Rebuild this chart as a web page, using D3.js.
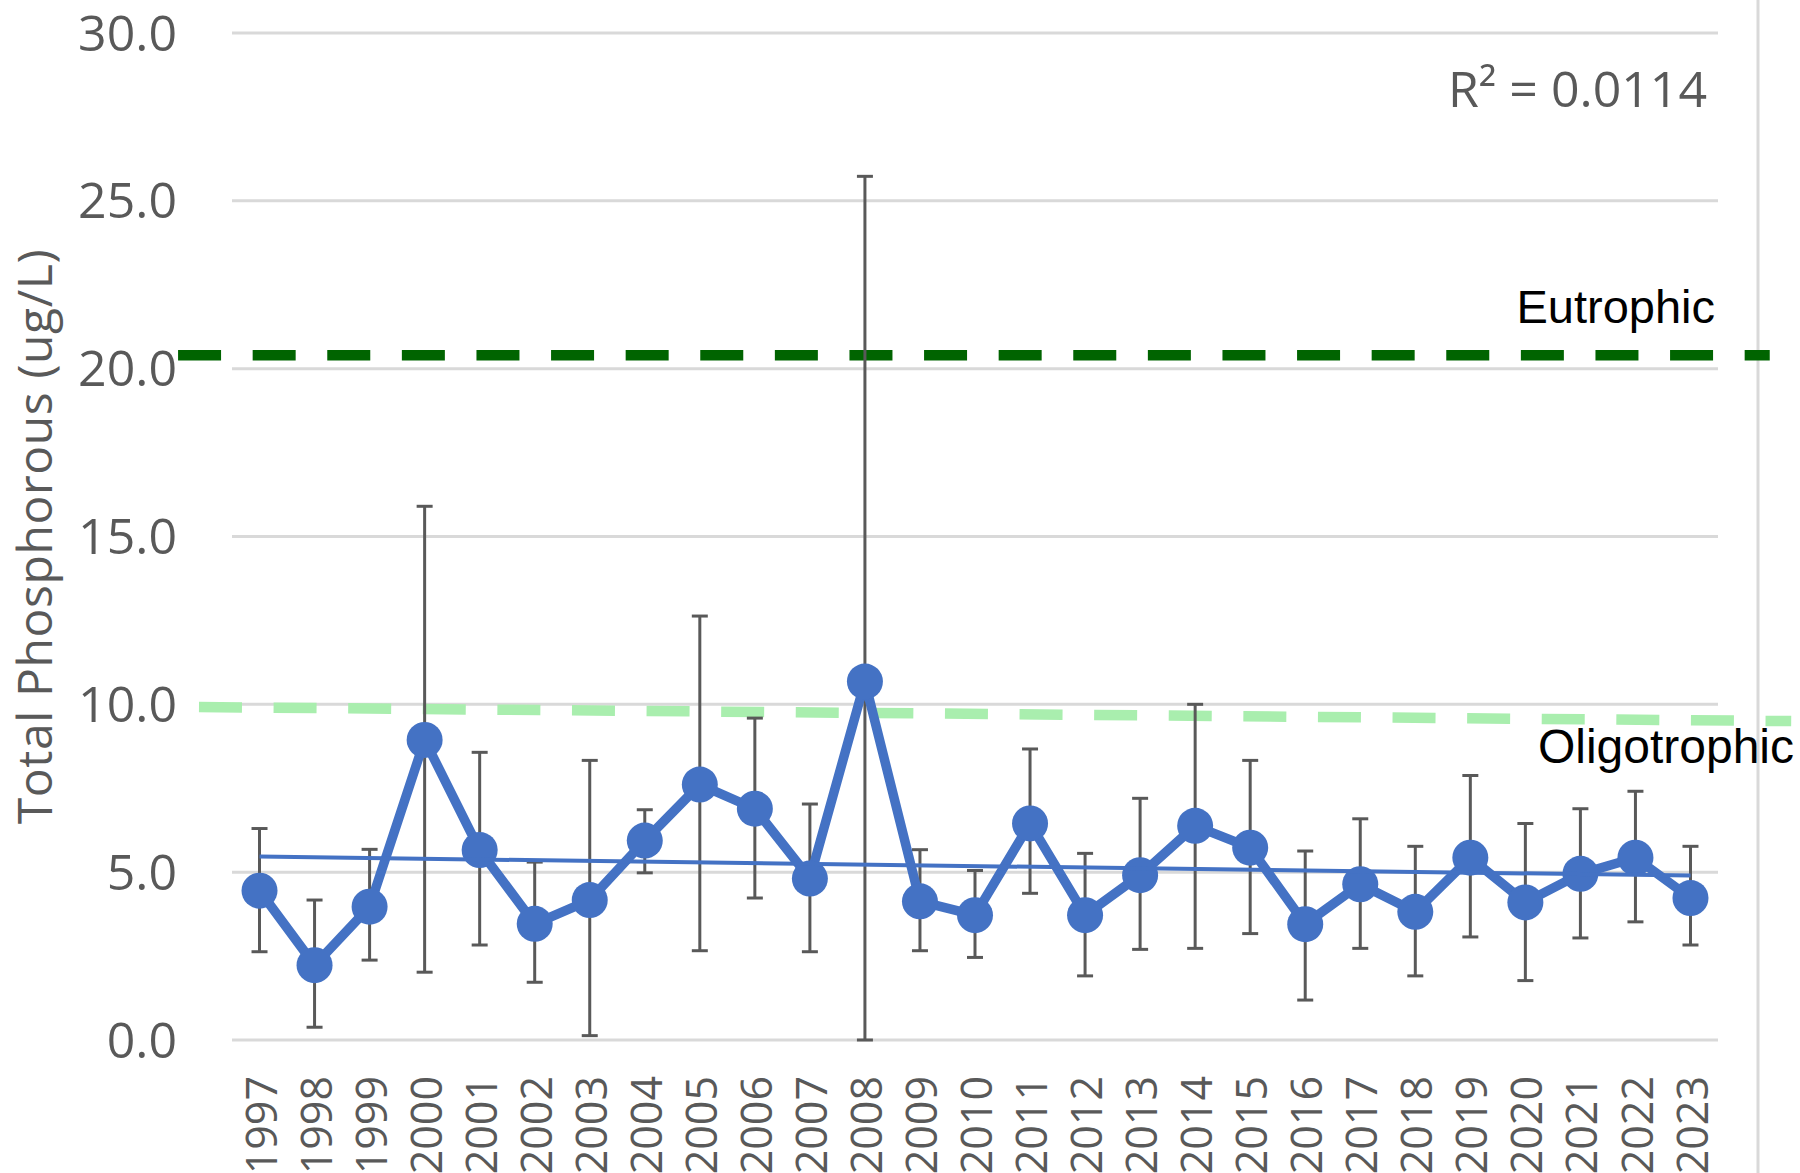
<!DOCTYPE html>
<html>
<head>
<meta charset="utf-8">
<script src="https://cdn.jsdelivr.net/npm/d3@7"></script>
<style>
  html, body { margin: 0; padding: 0; background: #fff; }
  svg { display: block; }
</style>
</head>
<body>
<div id="chart"></div>
<script>
// yearly mean total phosphorous, with error bar ends
var years = ["1997","1998","1999","2000","2001","2002","2003","2004","2005","2006","2007","2008","2009",
    "2010","2011","2012","2013","2014","2015","2016","2017","2018","2019","2020","2021","2022","2023"]
var meanTP = [4.45, 2.23, 3.97, 8.94, 5.66, 3.46, 4.17, 5.94, 7.61, 6.89, 4.81, 10.68, 4.13,
    3.72, 6.45, 3.72, 4.91, 6.38, 5.73, 3.45, 4.64, 3.82, 5.43, 4.10, 4.95, 5.43, 4.23]
var highTP = [6.30, 4.17, 5.68, 15.90, 8.57, 5.30, 8.33, 6.86, 12.63, 9.59, 7.03, 25.73, 5.67,
    5.05, 8.67, 5.56, 7.20, 10.00, 8.33, 5.63, 6.59, 5.77, 7.88, 6.45, 6.89, 7.41, 5.77]
var lowTP = [2.63, 0.38, 2.38, 2.02, 2.83, 1.72, 0.13, 4.98, 2.66, 4.23, 2.63, 0.00, 2.66,
    2.46, 4.37, 1.91, 2.70, 2.73, 3.17, 1.19, 2.73, 1.91, 3.07, 1.77, 3.04, 3.52, 2.83]
var yTicks = [0, 5, 10, 15, 20, 25, 30]
var r2Label = "R² = 0.0114"

// trophic threshold lines (value at left end, value at right end)
var trophicNames = ["Eutrophic", "Oligotrophic"]
var trophicLeft = [20.4, 9.92]
var trophicRight = [20.4, 9.50]

function chart() {
    var width = 1800, height = 1173
    var margin = {top: 33, right: 82, bottom: 133, left: 232}

    var svg = d3.select("#chart").append("svg")
        .attr("width", width).attr("height", height)
        .style("font-family", "'Open Sans', sans-serif")

    var xScale = d3.scaleBand().domain(years).range([margin.left, width - margin.right])
    // same span, in band units, for things that reach past the plot
    var xUnits = d3.scaleLinear().domain([0, years.length]).range([margin.left, width - margin.right])
    var yScale = d3.scaleLinear().domain([0, 30]).range([height - margin.bottom, margin.top])
    var cx = function (i) { return xScale(years[i]) + xScale.bandwidth() / 2 }

    // gridlines
    svg.append("g").selectAll("line").data(yTicks).enter().append("line")
        .attr("x1", margin.left).attr("x2", width - margin.right)
        .attr("y1", function (d) { return yScale(d) })
        .attr("y2", function (d) { return yScale(d) })
        .attr("stroke", "#d9d9d9").attr("stroke-width", 3)

    // y tick labels
    svg.append("g").selectAll("text").data(yTicks).enter().append("text")
        .attr("x", margin.left - 55)
        .attr("y", function (d) { return yScale(d) })
        .attr("dy", "0.35em")
        .attr("text-anchor", "end")
        .attr("fill", "#595959").attr("font-size", 50)
        .text(d3.format(".1f"))

    // x tick labels, rotated
    svg.append("g").selectAll("text").data(years).enter().append("text")
        .attr("transform", function (d, i) {
            return "translate(" + [cx(i) + 2, height - margin.bottom + 36] + ") rotate(-90)"
        })
        .attr("dy", "0.35em")
        .attr("text-anchor", "end")
        .attr("fill", "#595959").attr("font-size", 43)
        .text(function (d) { return d })

    // axis title
    svg.append("text")
        .attr("transform", "translate(" + [35, (margin.top + height - margin.bottom) / 2] + ") rotate(-90)")
        .attr("dy", "0.35em")
        .attr("text-anchor", "middle")
        .attr("fill", "#595959").attr("font-size", 48)
        .attr("letter-spacing", 0.6)
        .text("Total Phosphorous (ug/L)")

    // right border of chart area
    svg.append("line")
        .attr("x1", 1758).attr("x2", 1758).attr("y1", 0).attr("y2", height)
        .attr("stroke", "#d9d9d9").attr("stroke-width", 3)

    // threshold lines
    var trophicStart = [-0.98, -0.6]
    var trophicEnd = [27.94, 28.33]
    var trophicColor = ["#006400", "#a9eeae"]
    trophicNames.forEach(function (name, k) {
        svg.append("line")
            .attr("x1", xUnits(trophicStart[k])).attr("x2", xUnits(trophicEnd[k]))
            .attr("y1", yScale(trophicLeft[k])).attr("y2", yScale(trophicRight[k]))
            .attr("stroke", trophicColor[k]).attr("stroke-width", 10.5)
            .attr("stroke-dasharray", "43,31.6")
    })

    // error bars
    var eb = svg.append("g").attr("stroke", "#595959").attr("stroke-width", 3)
    years.forEach(function (y, i) {
        eb.append("line").attr("x1", cx(i)).attr("x2", cx(i))
            .attr("y1", yScale(lowTP[i])).attr("y2", yScale(highTP[i]))
        eb.append("line").attr("x1", cx(i) - 8).attr("x2", cx(i) + 8)
            .attr("y1", yScale(lowTP[i])).attr("y2", yScale(lowTP[i]))
        eb.append("line").attr("x1", cx(i) - 8).attr("x2", cx(i) + 8)
            .attr("y1", yScale(highTP[i])).attr("y2", yScale(highTP[i]))
    })

    // series line
    var line = d3.line()
        .x(function (d, i) { return cx(i) })
        .y(function (d) { return yScale(d) })
    svg.append("path").datum(meanTP)
        .attr("d", line)
        .attr("fill", "none").attr("stroke", "#4472c4")
        .attr("stroke-width", 9.5).attr("stroke-linejoin", "round")

    svg.append("g").selectAll("circle").data(meanTP).enter().append("circle")
        .attr("cx", function (d, i) { return cx(i) })
        .attr("cy", function (d) { return yScale(d) })
        .attr("r", 18)
        .attr("fill", "#4472c4")

    // linear trendline (least squares over the category index)
    var n = meanTP.length
    var mx = d3.mean(meanTP, function (d, i) { return i })
    var my = d3.mean(meanTP)
    var sxy = d3.sum(meanTP, function (d, i) { return (i - mx) * (d - my) })
    var sxx = d3.sum(meanTP, function (d, i) { return (i - mx) * (i - mx) })
    var slope = sxy / sxx
    var icpt = my - slope * mx
    svg.append("line")
        .attr("x1", cx(0)).attr("x2", cx(n - 1))
        .attr("y1", yScale(icpt)).attr("y2", yScale(icpt + slope * (n - 1)))
        .attr("stroke", "#4472c4").attr("stroke-width", 4)

    // labels
    svg.append("text")
        .attr("x", 1707).attr("y", 107)
        .attr("text-anchor", "end")
        .attr("fill", "#595959").attr("font-size", 50)
        .text(r2Label)

    var labelEnd = [1715, 1794]
    var labelBase = [323, 763]
    var labelSize = [47, 48]
    trophicNames.forEach(function (name, k) {
        svg.append("text")
            .attr("x", labelEnd[k]).attr("y", labelBase[k])
            .attr("text-anchor", "end")
            .attr("font-family", "'Liberation Sans', Arial, sans-serif")
            .attr("font-size", labelSize[k]).attr("fill", "#000")
            .text(name)
    })
}

chart()
</script>
</body>
</html>
